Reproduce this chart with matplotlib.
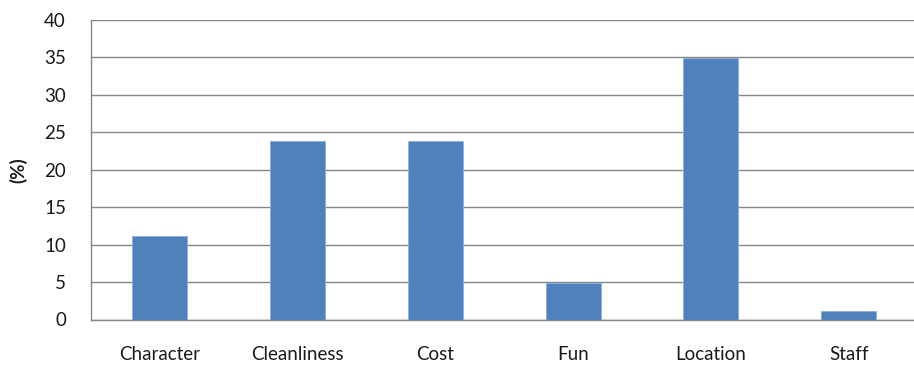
import matplotlib
matplotlib.use("Agg")
import matplotlib.pyplot as plt
import numpy as np

categories = ["Character", "Cleanliness", "Cost", "Fun", "Location", "Staff"]
values = [11.1, 23.8, 23.8, 4.9, 34.9, 1.1]
yticks = [0, 5, 10, 15, 20, 25, 30, 35, 40]

plt.rcParams["font.family"] = ["Lato", "DejaVu Sans"]

W, H = 914, 367
fig = plt.figure(figsize=(W / 100, H / 100), dpi=100)
left, right, top, bottom = 91, 917.5, 20, 319.5
ax = fig.add_axes([left / W, (H - bottom) / H, (right - left) / W, (bottom - top) / H])

grid_c = "#868686"
bar_c = "#4F81BD"
txt_c = "#1a1a1a"

x = np.arange(len(categories))
ax.bar(x, values, width=0.4, color=bar_c, edgecolor="#8EAEDB", linewidth=0.6, zorder=3)

ax.set_xlim(-0.5, len(categories) - 0.5)
ax.set_ylim(0, 40)
ax.set_yticks(yticks)
ax.set_yticklabels([str(t) for t in yticks], fontsize=13.5, color=txt_c)
ax.set_xticks(x)
ax.set_xticklabels(categories, fontsize=13.5, color=txt_c)
ax.tick_params(axis="y", length=0, pad=18)
ax.tick_params(axis="x", length=0, pad=19)

ax.grid(axis="y", color=grid_c, linewidth=1.0, zorder=0)
ax.set_axisbelow(True)
for s in ["top", "right"]:
    ax.spines[s].set_visible(False)
for s in ["left", "bottom"]:
    ax.spines[s].set_color(grid_c)
    ax.spines[s].set_linewidth(1.0)

ax.set_ylabel("(%)", fontsize=13.5, fontweight="bold", labelpad=12, color=txt_c)

fig.savefig("out.png", dpi=100)
